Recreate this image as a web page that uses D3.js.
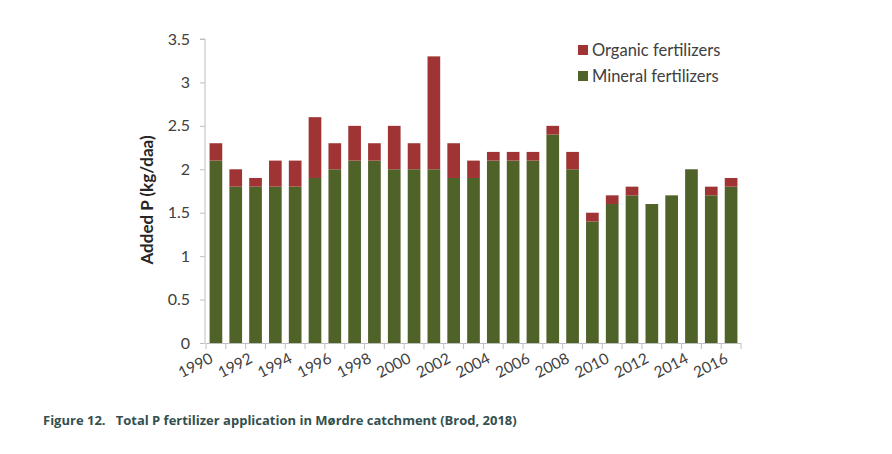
<!DOCTYPE html>
<html><head><meta charset="utf-8">
<script src="https://cdn.jsdelivr.net/npm/d3@7"></script>
<style>body{margin:0;background:#fff;} svg{display:block;}</style>
</head><body>
<svg id="c" width="892" height="454"></svg>
<script>
const years = d3.range(1990, 2017).map(String);
const mineral = [2.1,1.8,1.8,1.8,1.8,1.9,2.0,2.1,2.1,2.0,2.0,2.0,1.9,1.9,2.1,2.1,2.1,2.4,2.0,1.4,1.6,1.7,1.6,1.7,2.0,1.7,1.8];
const organic = [0.2,0.2,0.1,0.3,0.3,0.7,0.3,0.4,0.2,0.5,0.3,1.3,0.4,0.2,0.1,0.1,0.1,0.1,0.2,0.1,0.1,0.1,0.0,0.0,0.0,0.1,0.1];
const yTicks = [0,0.5,1,1.5,2,2.5,3,3.5];
const xLabels = years.filter((d,i)=>i%2===0);
const seriesNames = ["Organic fertilizers","Mineral fertilizers"];
const colors = {mineral:"#4f6228", organic:"#a03434"};

const font = "Lato, 'Open Sans', sans-serif";
const svg = d3.select("#c");
const x = d3.scaleBand().domain(years).range([206, 741]).paddingInner(0.36).paddingOuter(0.18);
const y = d3.scaleLinear().domain([0,3.5]).range([343, 39]);

const data = years.map((yr,i)=>({yr, mineral: mineral[i], organic: organic[i]}));
const stack = d3.stack().keys(["mineral","organic"])(data);

svg.append("g").selectAll("g").data(stack).join("g")
  .attr("fill", d=>colors[d.key])
  .selectAll("rect").data(d=>d).join("rect")
  .attr("x", d=>x(d.data.yr))
  .attr("width", x.bandwidth())
  .attr("y", d=>y(d[1]))
  .attr("height", d=>y(d[0])-y(d[1]));

// y axis
const ya = svg.append("g").attr("transform","translate(205,0)")
  .call(d3.axisLeft(y).tickValues(yTicks).tickSize(5).tickPadding(10).tickFormat(d3.format("")));
ya.select(".domain").attr("stroke","#bfbfbf").attr("d","M-5,39H0V343H0");
ya.selectAll(".tick line").attr("stroke","#bfbfbf");
ya.selectAll("text").attr("font-family",font).attr("font-size",16).attr("fill","#404040");

// x axis: ticks at band boundaries
const x0 = 206, x1 = 741;
const xa = svg.append("g");
xa.append("line").attr("x1",x0).attr("x2",x1).attr("y1",343.5).attr("y2",343.5).attr("stroke","#bfbfbf");
xa.selectAll("line.t").data(d3.range(years.length+1)).join("line").attr("class","t")
  .attr("x1",i=>x0+i*((x1-x0)/years.length)).attr("x2",i=>x0+i*((x1-x0)/years.length))
  .attr("y1",343).attr("y2",349).attr("stroke","#bfbfbf");
xa.selectAll("text").data(xLabels).join("text")
  .attr("transform", d=>`translate(${x(d)+x.bandwidth()/2-2},${362}) rotate(-27)`)
  .attr("text-anchor","end")
  .attr("font-family",font).attr("font-size",15.5).attr("fill","#404040")
  .text(d=>d);

// y title
svg.append("text").attr("transform","translate(153,200) rotate(-90)")
  .attr("text-anchor","middle").attr("font-family",font).attr("font-weight","bold")
  .attr("font-size",17).attr("fill","#262626").text("Added P (kg/daa)");

// legend
const leg = svg.append("g");
const legColors = [colors.organic, colors.mineral];
seriesNames.forEach((n,i)=>{
  leg.append("rect").attr("x",578).attr("y",45+i*26).attr("width",10).attr("height",10).attr("fill",legColors[i]);
  leg.append("text").attr("x",592).attr("y",56+i*26).attr("font-family",font).attr("font-size",16.5)
    .attr("fill","#404040").text(n);
});

// caption
svg.append("text").attr("x",43).attr("y",425).attr("font-family","'Open Sans', sans-serif").attr("font-weight","bold")
  .attr("font-size",13).attr("fill","#33504f").attr("xml:space","preserve")
  .text("Figure 12.   Total P fertilizer application in Mørdre catchment (Brod, 2018)");
</script>
</body></html>
